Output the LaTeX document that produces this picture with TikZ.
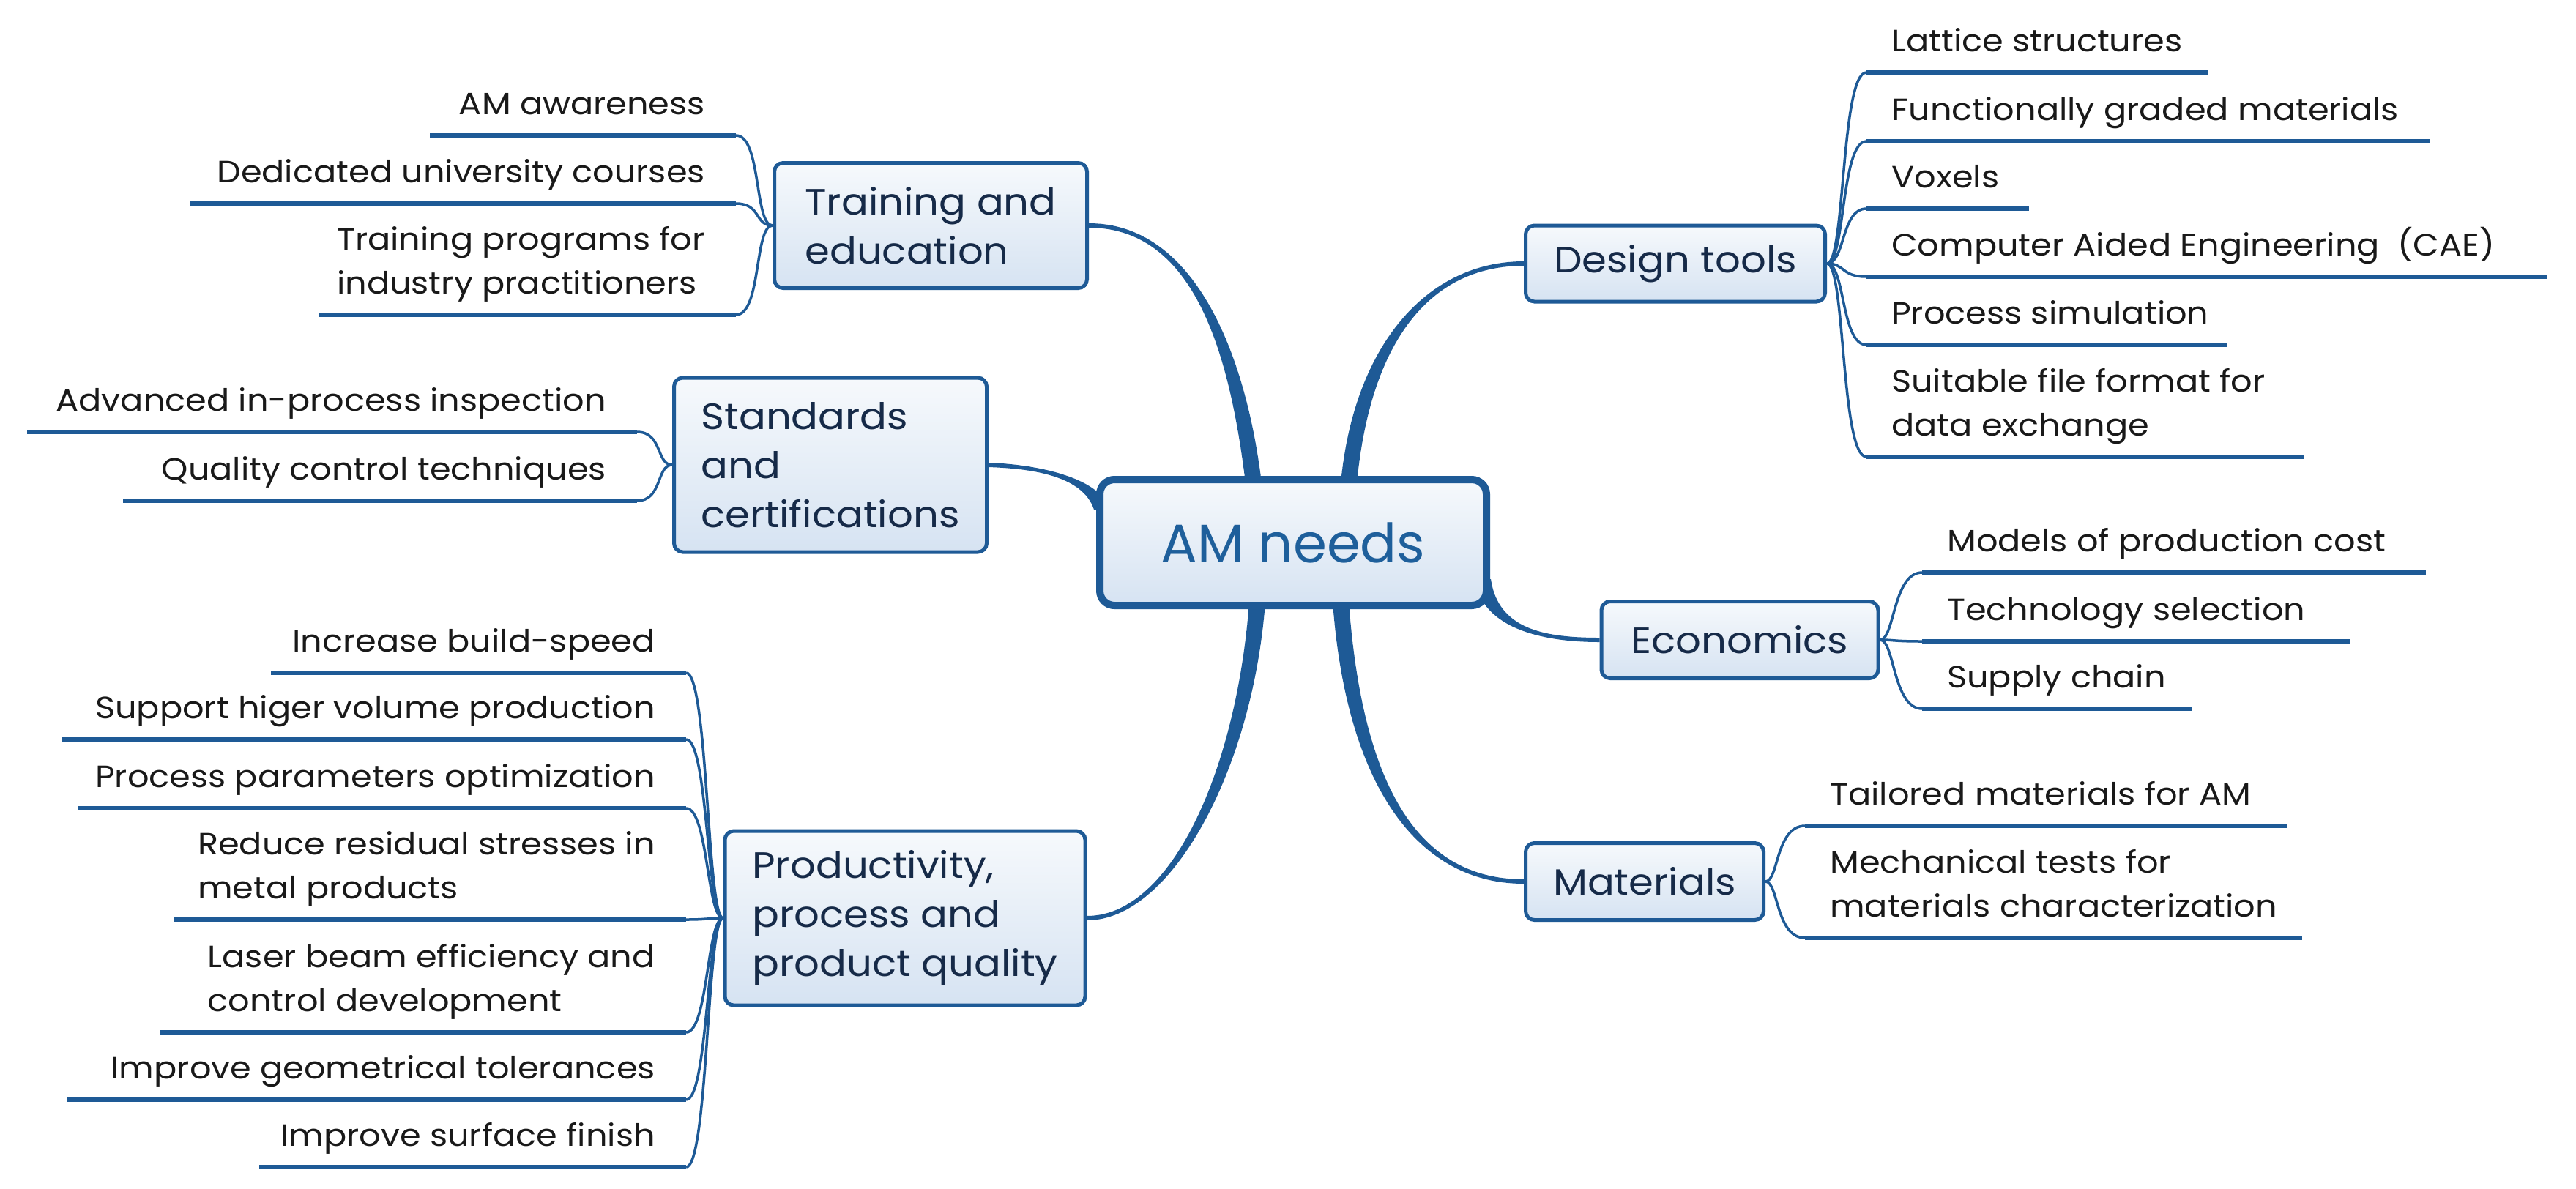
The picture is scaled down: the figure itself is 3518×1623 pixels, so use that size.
\documentclass[tikz,border=0pt]{standalone}
\usepackage{fontspec}
\setmainfont{Poppins}
\newfontfamily\kidfam{Poppins}[FakeStretch=1.1]
\newfontfamily\branchfam{Poppins}[FakeStretch=1.09]
\usetikzlibrary{calc,backgrounds}
\definecolor{lineblue}{RGB}{30,90,150}
\definecolor{boxtop}{RGB}{246,249,252}
\definecolor{boxbot}{RGB}{214,227,242}
\definecolor{navytext}{RGB}{22,42,72}
\definecolor{kidtext}{RGB}{25,25,25}
\definecolor{centertext}{RGB}{30,95,155}
\newcommand\kidfont{\kidfam\fontsize{42}{60}\selectfont}
\newcommand\branchfont{\branchfam\fontsize{50}{67}\selectfont}
\newcommand\centerfont{\fontsize{74}{90}\selectfont}
\tikzset{
  branchbox/.style={draw=lineblue, line width=5pt, rounded corners=12pt, top color=boxtop, bottom color=boxbot, font=\branchfont, text=navytext, align=left, inner sep=0pt},
  centerbox/.style={draw=lineblue, line width=10pt, rounded corners=20pt, top color=boxtop, bottom color=boxbot, font=\centerfont, text=centertext, inner sep=0pt},
  rkidnode/.style={anchor=south west, inner sep=0pt, text depth=0pt, align=left, font=\kidfont, text=kidtext},
  lkidnode/.style={anchor=south east, inner sep=0pt, text depth=0pt, align=left, font=\kidfont, text=kidtext},
  uline/.style={draw=lineblue, line width=5.5pt},
  bline/.style={draw=lineblue, line width=3.5pt},
}
% right-side child: name, underline start x, underline end x, underline y, text
\newcommand\rkid[5]{%
  \node[rkidnode] (#1) at (#2+34,#4-28) {#5};
  \draw[uline] ([shift={(-34,28)}]#1.south west) coordinate (#1s) -- (#3,#4) coordinate (#1e);
}
% left-side child: name, underline start x, underline end x, underline y, text
\newcommand\lkid[5]{%
  \node[lkidnode] (#1) at (#3-42,#4-28) {#5};
  \draw[uline] (#2,#4) coordinate (#1s) -- ([shift={(42,28)}]#1.south east) coordinate (#1e);
}
% tapered main branch: start, c1, c2, end, start half-offset, end half-offset
\newcommand\taper[6]{%
  \fill[lineblue] ($(#1)+(#5)$) .. controls ($(#2)+(#5)$) and ($(#3)+(#6)$) .. ($(#4)+(#6)$)
    -- ($(#4)-(#6)$) .. controls ($(#3)-(#6)$) and ($(#2)-(#5)$) .. ($(#1)-(#5)$) -- cycle;
}
\begin{document}
\begin{tikzpicture}[x=1pt,y=-1pt]
\useasboundingbox (0,0) rectangle (3518,1623);

% central and branch nodes
\node[centerbox, minimum width=528, minimum height=172] (am) at (1766,741) {AM needs};
\node[branchbox, minimum width=427, minimum height=171] (tr) at (1271,308) {Training and\\education};
\node[branchbox, minimum width=427, minimum height=238] (st) at (1134,635) {Standards\\and\\certifications};
\node[branchbox, minimum width=492, minimum height=238] (pr) at (1236,1254) {Productivity,\\process and\\product quality};
\node[branchbox, minimum width=409, minimum height=104, align=center] (dt) at (2288,360) {Design tools};
\node[branchbox, minimum width=378, minimum height=105, align=center] (ec) at (2376,874) {Economics};
\node[branchbox, minimum width=325, minimum height=105, align=center] (ma) at (2246,1204) {Materials};

% main tapered branches
\begin{pgfonlayer}{background}
\fill[white] (0,0) rectangle (3518,1623);
\coordinate (bTr) at ([shift={(-54,10)}]am.north);
\coordinate (bDt) at ([shift={(76,10)}]am.north);
\coordinate (bPr) at ([shift={(-49,-10)}]am.south);
\coordinate (bMa) at ([shift={(65,-10)}]am.south);
\coordinate (bSt) at ([shift={(8,-45)}]am.west);
\coordinate (bEc) at ([shift={(-10,50)}]am.east);
\taper{bTr}{1690,480}{1630,308}{tr.east}{11,0}{0,-3}
\taper{bDt}{1860,470}{1950,360}{dt.west}{11,0}{0,3}
\taper{bPr}{1700,1050}{1600,1254}{pr.east}{11,0}{0,3}
\taper{bMa}{1850,1080}{1940,1204}{ma.west}{11,0}{0,-3}
\taper{bSt}{1490,650}{1410,637}{st.east}{11,0}{0,-3}
\taper{bEc}{2035,860}{2110,874}{ec.west}{11,0}{0,-3}
\end{pgfonlayer}

% Design tools children
\rkid{d1}{2549}{3015}{99}{Lattice structures}
\rkid{d2}{2549}{3318}{193}{Functionally graded materials}
\rkid{d3}{2549}{2771}{285}{Voxels}
\rkid{d4}{2549}{3479}{378}{Computer Aided Engineering~~(CAE)}
\rkid{d5}{2549}{3041}{471}{Process simulation}
\rkid{d6}{2549}{3146}{624}{Suitable file format for\\data exchange}
\foreach \k in {d1,d2,d3,d4,d5,d6}
  \draw[bline] (dt.east) .. controls +(25,0) and +(-35,0) .. (\k s);

% Economics children
\rkid{e1}{2625}{3313}{782}{Models of production cost}
\rkid{e2}{2625}{3209}{876}{Technology selection}
\rkid{e3}{2625}{2993}{968}{Supply chain}
\foreach \k in {e1,e2,e3}
  \draw[bline] (ec.east) .. controls +(20,0) and +(-40,0) .. (\k s);

% Materials children
\rkid{m1}{2465}{3124}{1128}{Tailored materials for AM}
\rkid{m2}{2465}{3144}{1281}{Mechanical tests for\\materials characterization}
\foreach \k in {m1,m2}
  \draw[bline] (ma.east) .. controls +(18,0) and +(-40,0) .. (\k s);

% Training children
\lkid{t1}{587}{1005}{185}{AM awareness}
\lkid{t2}{260}{1005}{278}{Dedicated university courses}
\lkid{t3}{435}{1005}{430}{Training programs for\\industry practitioners}
\foreach \k in {t1,t2,t3}
  \draw[bline] (tr.west) .. controls +(-25,0) and +(35,0) .. (\k e);

% Standards children
\lkid{s1}{37}{870}{590}{Advanced in-process inspection}
\lkid{s2}{168}{870}{684}{Quality control techniques}
\foreach \k in {s1,s2}
  \draw[bline] (st.west) .. controls +(-22,0) and +(35,0) .. (\k e);

% Productivity children
\lkid{p1}{370}{937}{919}{Increase build-speed}
\lkid{p2}{84}{937}{1010}{Support higer volume production}
\lkid{p3}{107}{937}{1104}{Process parameters optimization}
\lkid{p4}{238}{937}{1256}{Reduce residual stresses in\\metal products}
\lkid{p5}{219}{937}{1410}{Laser beam efficiency and\\control development}
\lkid{p6}{92}{937}{1502}{Improve geometrical tolerances}
\lkid{p7}{354}{937}{1594}{Improve surface finish}
\foreach \k in {p1,p2,p3,p4,p5,p6,p7}
  \draw[bline] (pr.west) .. controls +(-22,0) and +(30,0) .. (\k e);
\end{tikzpicture}
\end{document}
